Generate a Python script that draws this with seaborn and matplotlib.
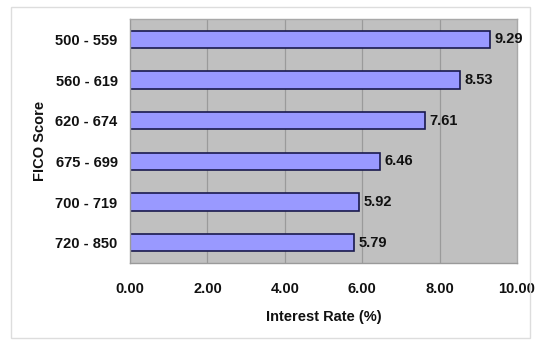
import matplotlib
matplotlib.use("Agg")
import matplotlib.pyplot as plt
import seaborn as sns
import pandas as pd
from matplotlib.patches import Rectangle

categories = ["500 - 559", "560 - 619", "620 - 674", "675 - 699", "700 - 719", "720 - 850"]
rates = [9.29, 8.53, 7.61, 6.46, 5.92, 5.79]
xticks = [0, 2, 4, 6, 8, 10]

df = pd.DataFrame({"FICO Score": categories, "Interest Rate (%)": rates})

sns.set_theme(style="white")
plt.rcParams["font.family"] = ["Liberation Sans", "DejaVu Sans"]

FS = 10.5
W, H = 536, 341
fig = plt.figure(figsize=(W / 100, H / 100), dpi=100)
fig.patch.set_facecolor("white")
fig.patches.append(Rectangle((11 / W, 3 / H), 519 / W, 331 / H, transform=fig.transFigure,
                             fill=False, edgecolor="#DDDDDD", linewidth=1.0))

left, right, top, bottom = 130, 517, 19, 263
ax = fig.add_axes([left / W, 1 - bottom / H, (right - left) / W, (bottom - top) / H])

sns.barplot(data=df, y="FICO Score", x="Interest Rate (%)", ax=ax, orient="h",
            color="#9999FF", edgecolor="#1A1A4E", linewidth=1.2, width=0.42,
            saturation=1)

ax.set_facecolor("#C0C0C0")
ax.set_xlim(0, 10)
ax.set_ylim(len(categories) - 0.5, -0.5)
ax.set_xticks(xticks)
ax.set_xticklabels([f"{v:.2f}" for v in xticks], fontsize=FS, fontweight="bold", color="#111111")
ax.set_yticks(range(len(categories)))
ax.set_yticklabels(categories, fontsize=FS, fontweight="bold", color="#111111")
ax.tick_params(axis="y", length=0, pad=9)
ax.tick_params(axis="x", length=0, pad=14)

# minor ticks at category boundaries
ax.set_yticks([i - 0.5 for i in range(len(categories) + 1)], minor=True)
ax.tick_params(axis="y", which="minor", length=4, color="#999999", width=0.8)
ax.set_xticks(xticks, minor=True)
ax.tick_params(axis="x", which="minor", length=4, color="#999999", width=0.8)

for v in xticks[1:-1]:
    ax.axvline(v, color="#9A9A9A", linewidth=0.9, zorder=0.5)
ax.set_axisbelow(True)

for s in ["top", "right"]:
    ax.spines[s].set_color("#A8A8A8")
    ax.spines[s].set_linewidth(1.0)
for s in ["left", "bottom"]:
    ax.spines[s].set_color("#9A9A9A")
    ax.spines[s].set_linewidth(1.0)

for i, v in enumerate(rates):
    ax.text(v + 0.12, i, f"{v:.2f}", va="center", ha="left", fontsize=FS,
            fontweight="bold", color="#111111", clip_on=False)

ax.set_xlabel("Interest Rate (%)", fontsize=FS, fontweight="bold", color="#111111", labelpad=10)
ax.set_ylabel("FICO Score", fontsize=FS, fontweight="bold", color="#111111", labelpad=6)

fig.savefig("out.png", dpi=100, facecolor="white")
